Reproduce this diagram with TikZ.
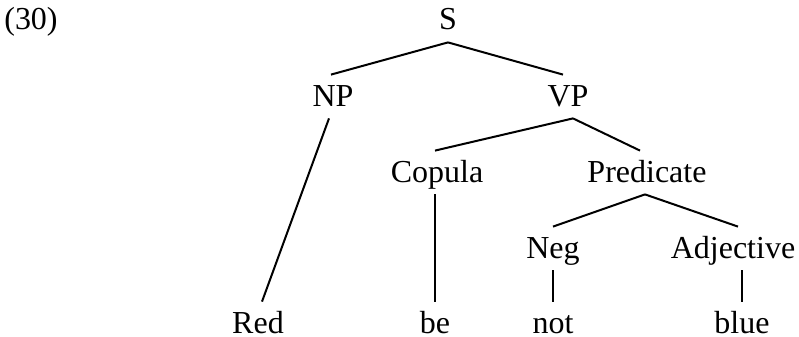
\documentclass[tikz,border=0pt]{standalone}
\usepackage{fontspec}
\setmainfont{Liberation Serif}
\begin{document}
\begin{tikzpicture}[
                x=0.5pt, y=-0.5pt,
                every node/.style={anchor=base, inner sep=2.5pt,
                    text height=13pt, text depth=3.5pt,
                    font=\fontsize{16}{19}\selectfont},
                branch/.style={line width=1pt},
            ]
            \useasboundingbox (0,0) rectangle (799,337);
            \node (num) at (31,30) {(30)};
            % categories
            \node (s) at (448,30) {S};
            \node (np) at (333,106) {NP};
            \node (vp) at (568,106) {VP};
            \node (cop) at (437,182) {Copula};
            \node (pred) at (647,182) {Predicate};
            \node (neg) at (553,258) {Neg};
            \node (adj) at (733,258) {Adjective};
            % words
            \node (red) at (258,333) {Red};
            \node (be) at (435,333) {be};
            \node (not) at (553,333) {not};
            \node (blue) at (742,333) {blue};
            % branches
            \draw[branch] (s.south) -- ([xshift=-1pt]np.north);
            \draw[branch] (s.south) -- ([xshift=-2.5pt]vp.north);
            \draw[branch] ([xshift=-2pt]np.south) -- ([xshift=2pt]red.north);
            \draw[branch] ([xshift=2.5pt]vp.south) -- ([xshift=-1pt]cop.north);
            \draw[branch] ([xshift=2.5pt]vp.south) -- ([xshift=-3.5pt]pred.north);
            \draw[branch] ([xshift=-1pt]pred.south) -- (neg.north);
            \draw[branch] ([xshift=-1pt]pred.south) -- ([xshift=2.5pt]adj.north);
            \draw[branch] (cop.south -| be.north) -- (be.north);
            \draw[branch] (neg.south) -- (not.north);
            \draw[branch] (adj.south -| blue.north) -- (blue.north);
\end{tikzpicture}
\end{document}
